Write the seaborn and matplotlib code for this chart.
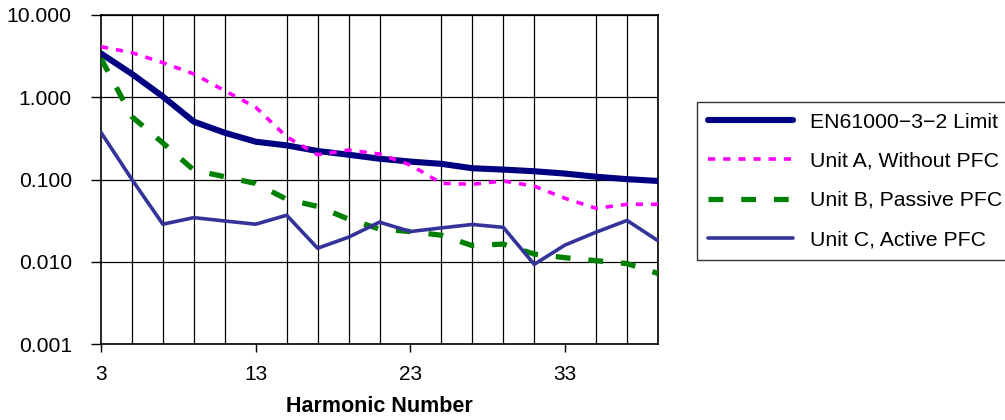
import numpy as np
import pandas as pd
import matplotlib
matplotlib.use("Agg")
import matplotlib.pyplot as plt
from matplotlib.ticker import FixedLocator, FuncFormatter, NullFormatter
import seaborn as sns

# ---------------- data ----------------
harmonics = [3, 5, 7, 9, 11, 13, 15, 17, 19, 21, 23, 25, 27, 29, 31, 33, 35, 37, 39]
limit_en61000 = [3.40, 1.92, 1.02, 0.505, 0.37, 0.288, 0.26, 0.222, 0.200, 0.179,
                 0.165, 0.155, 0.137, 0.132, 0.126, 0.118, 0.108, 0.101, 0.096]
unit_a = [4.12, 3.48, 2.63, 1.92, 1.20, 0.755, 0.33, 0.200, 0.228, 0.204,
          0.150, 0.090, 0.0875, 0.096, 0.083, 0.059, 0.0446, 0.050, 0.050]
unit_b = [2.96, 0.58, 0.278, 0.130, 0.108, 0.0895, 0.0575, 0.047, 0.033, 0.025,
          0.0233, 0.021, 0.0157, 0.0164, 0.0124, 0.0112, 0.0103, 0.0095, 0.0072]
unit_c = [0.373, 0.100, 0.0286, 0.0344, 0.0313, 0.0286, 0.0368, 0.0146, 0.0199, 0.0303,
          0.0233, 0.0258, 0.0284, 0.0262, 0.0093, 0.0160, 0.0229, 0.0318, 0.0180]
series_names = ["EN61000\u22123\u22122 Limit", "Unit A, Without PFC",
                "Unit B, Passive PFC", "Unit C, Active PFC"]
x_tick_labels = [3, 13, 23, 33]
y_tick_values = [0.001, 0.01, 0.1, 1, 10]
x_label = "Harmonic Number"

# ---------------- style ----------------
sns.set_theme(style="white")
plt.rcParams["font.family"] = ["Liberation Sans", "DejaVu Sans"]

df = pd.DataFrame({
    "Harmonic": harmonics * 4,
    "Value": limit_en61000 + unit_a + unit_b + unit_c,
    "Series": sum([[n] * len(harmonics) for n in series_names], []),
})

styles = {
    series_names[0]: dict(color="#000080", lw=4.4, dashes=None),
    series_names[1]: dict(color="#FF00FF", lw=2.6, dashes=(2.0, 2.2)),
    series_names[2]: dict(color="#008000", lw=3.8, dashes=(2.8, 3.4)),
    series_names[3]: dict(color="#333399", lw=2.6, dashes=None),
}

fig = plt.figure(figsize=(10.05, 4.2), dpi=100)
ax = fig.add_axes([101 / 1005, 76 / 420, 557 / 1005, 329 / 420])

for name in series_names:
    st = styles[name]
    sub = df[df["Series"] == name]
    sns.lineplot(data=sub, x="Harmonic", y="Value", ax=ax, color=st["color"],
                 linewidth=st["lw"], label=name, zorder=3)
    line = ax.get_lines()[-1]
    line.set_solid_capstyle("round")
    line.set_solid_joinstyle("round")
    if st["dashes"] is not None:
        line.set_dashes(st["dashes"])
        line.set_dash_capstyle("butt")

ax.set_yscale("log")
ax.set_ylim(0.001, 10)
ax.set_xlim(3, 39)

ax.yaxis.set_major_locator(FixedLocator(y_tick_values))
ax.yaxis.set_minor_locator(FixedLocator([]))
ax.yaxis.set_major_formatter(FuncFormatter(lambda v, p: f"{v:.3f}"))
ax.xaxis.set_major_locator(FixedLocator(x_tick_labels))
ax.xaxis.set_minor_locator(FixedLocator(harmonics))
ax.xaxis.set_minor_formatter(NullFormatter())

ax.grid(True, axis="y", which="major", color="black", linewidth=0.9)
ax.grid(True, axis="x", which="minor", color="black", linewidth=0.9)
ax.grid(False, axis="x", which="major")
ax.tick_params(axis="x", which="major", direction="out", length=6, width=1,
               color="black", labelcolor="black", labelsize=15, pad=9, bottom=True)
ax.tick_params(axis="x", which="minor", length=0)
ax.tick_params(axis="y", which="major", direction="out", length=7, width=1,
               color="black", labelcolor="black", labelsize=15.2, pad=14, left=True)
for sp in ax.spines.values():
    sp.set_color("black")
    sp.set_linewidth(1.2)
    sp.set_visible(True)

ax.set_ylabel("")
ax.set_xlabel(x_label, fontsize=15.5, fontweight="bold", labelpad=9, color="black")

handles, labels = ax.get_legend_handles_labels()
leg = fig.legend(handles, labels, loc="upper left",
                 bbox_to_anchor=(697 / 1005, 1 - 102 / 420), borderaxespad=0,
                 frameon=True, fancybox=False, shadow=False, fontsize=15.3,
                 handlelength=4.0, handletextpad=0.8, labelspacing=0.95,
                 borderpad=0.5)
for t in leg.get_texts():
    t.set_color("black")
leg.get_frame().set_edgecolor("black")
leg.get_frame().set_linewidth(1.0)
if ax.get_legend():
    ax.get_legend().remove()

fig.savefig("out.png", dpi=100, facecolor="white")
